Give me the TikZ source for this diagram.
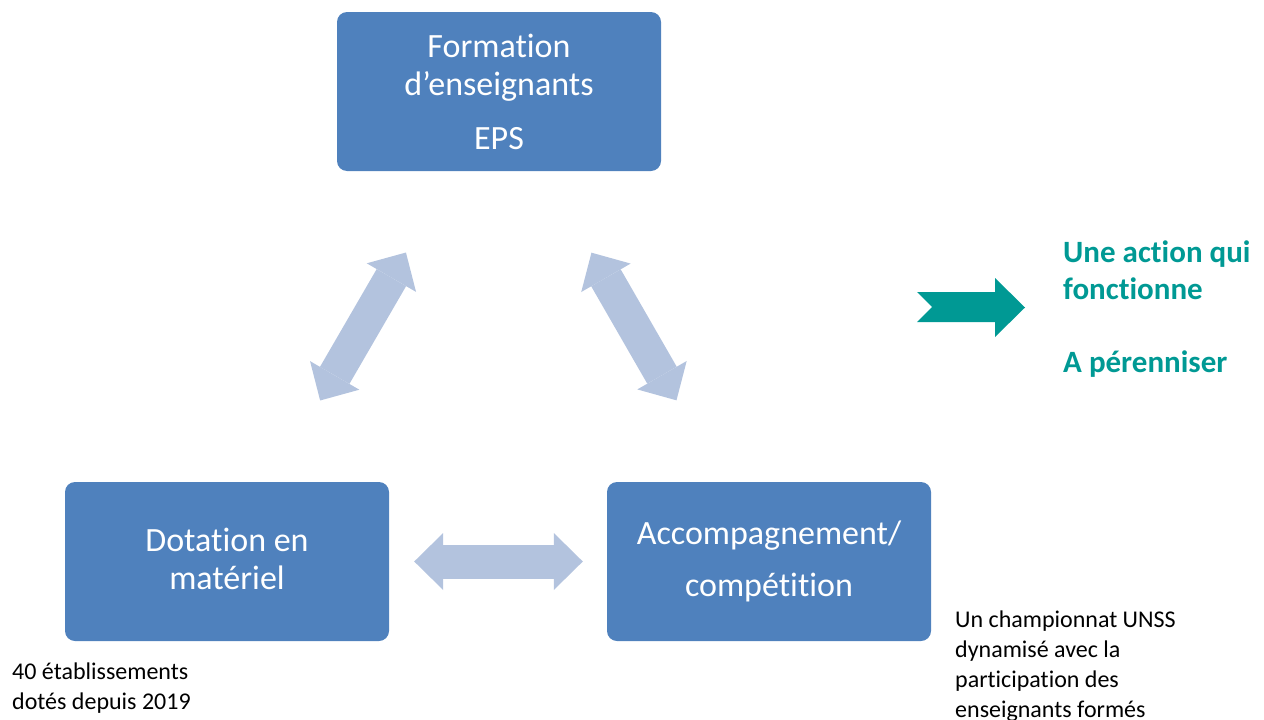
\documentclass[tikz,border=0pt]{standalone}
\usepackage{fontspec}
\setmainfont[Ligatures=NoCommon]{Carlito}
\usetikzlibrary{arrows.meta,positioning}

\definecolor{boxblue}{RGB}{79,129,189}
\definecolor{arrowblue}{RGB}{179,195,222}
\definecolor{actionteal}{RGB}{0,153,148}

\tikzstyle{box} = [rectangle, rounded corners=10pt, minimum width=324pt, minimum height=159pt, inner sep=0pt, text centered, align=center, fill=boxblue, text=white, font=\fontsize{34}{38}\selectfont]
\tikzstyle{note} = [anchor=north west, inner sep=0pt, align=left, font=\fontsize{24}{30}\selectfont]
\tikzstyle{dblarrow} = [line width=34pt, draw=arrowblue, {Triangle[length=29pt,width=57pt,line width=0pt]}-{Triangle[length=29pt,width=57pt,line width=0pt]}]

\begin{document}
\begin{tikzpicture}[x=1pt, y=-1pt, node distance=470pt]
  \useasboundingbox (0,0) rectangle (1264,720);

  \node (formation) [box] at (499,91.5) {Formation\\d’enseignants\\[16pt]EPS};
  \node (dotation) [box, below of=formation, xshift=-272pt] {Dotation en\\matériel\vphantom{y}};
  \node (accomp) [box, below of=formation, xshift=270pt] {Accompagnement/\\[14pt]compétition};

  \node (dotes) [note] at (12,663) {40 établissements\\dotés depuis 2019};
  \node (championnat) [note] at (955,611) {Un championnat UNSS\\dynamisé avec la\\participation des\\enseignants formés};
  \node (result) [note, text=actionteal, font=\fontsize{31}{37}\selectfont\bfseries] at (1063,241) {Une action qui\\fonctionne\\[36pt]A pérenniser};

  \fill [actionteal] (917,292) -- (995,292) -- (995,278) -- (1025,307.5) -- (995,337) -- (995,322) -- (917,322) -- (932,307) -- cycle;

  \draw [dblarrow, shorten <=94pt, shorten >=94pt] (formation) -- (dotation);
  \draw [dblarrow, shorten <=94pt, shorten >=94pt] (formation) -- (accomp);
  \draw [dblarrow, shorten <=25pt, shorten >=24pt] (dotation) -- (accomp);
\end{tikzpicture}
\end{document}
